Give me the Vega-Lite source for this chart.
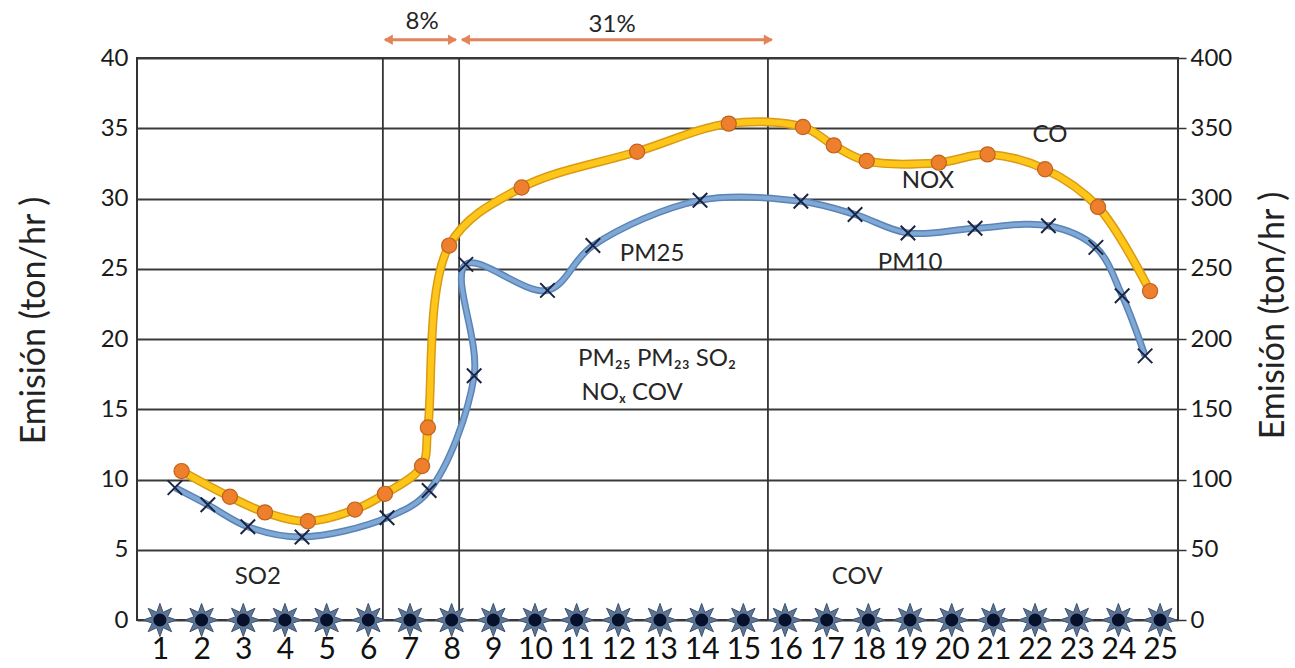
{
  "$schema": "https://vega.github.io/schema/vega-lite/v6.json",
  "autosize": {"type": "none"},
  "padding": {"left": 137, "top": 58, "right": 117, "bottom": 48},
  "width": 1041,
  "height": 562,
  "background": "white",
  "config": {
    "view": {"stroke": "#333333", "strokeWidth": 2},
    "font": "Lato",
    "axis": {"labelFont": "Lato", "titleFont": "Lato", "labelColor": "#1a1a1a", "titleColor": "#222222", "titleFontWeight": "normal"}
  },
  "datasets": {
    "orange": [
      {"x": 1.52, "y": 10.6}, {"x": 2.68, "y": 8.77}, {"x": 3.52, "y": 7.66}, {"x": 4.55, "y": 7.03},
      {"x": 5.68, "y": 7.86}, {"x": 6.40, "y": 8.98}, {"x": 7.29, "y": 10.96}, {"x": 7.43, "y": 13.7},
      {"x": 7.94, "y": 26.65}, {"x": 9.68, "y": 30.78}, {"x": 12.45, "y": 33.33}, {"x": 14.65, "y": 35.33},
      {"x": 16.43, "y": 35.09}, {"x": 17.17, "y": 33.78}, {"x": 17.96, "y": 32.67}, {"x": 19.69, "y": 32.55},
      {"x": 20.86, "y": 33.14}, {"x": 22.24, "y": 32.08}, {"x": 23.51, "y": 29.4}, {"x": 24.76, "y": 23.41}
    ],
    "blue": [
      {"x": 1.36, "y": 9.42}, {"x": 2.15, "y": 8.2}, {"x": 3.11, "y": 6.64}, {"x": 4.41, "y": 5.91},
      {"x": 6.45, "y": 7.28}, {"x": 7.46, "y": 9.22}, {"x": 8.54, "y": 17.38}, {"x": 8.34, "y": 25.31},
      {"x": 10.30, "y": 23.46}, {"x": 11.39, "y": 26.65}, {"x": 13.96, "y": 29.87}, {"x": 16.38, "y": 29.8},
      {"x": 17.68, "y": 28.86}, {"x": 18.95, "y": 27.54}, {"x": 20.56, "y": 27.88}, {"x": 22.32, "y": 28.06},
      {"x": 23.46, "y": 26.52}, {"x": 24.09, "y": 23.08}, {"x": 24.64, "y": 18.8}
    ],
    "stars": [
      {"x": 1, "y": 0}, {"x": 2, "y": 0}, {"x": 3, "y": 0}, {"x": 4, "y": 0}, {"x": 5, "y": 0},
      {"x": 6, "y": 0}, {"x": 7, "y": 0}, {"x": 8, "y": 0}, {"x": 9, "y": 0}, {"x": 10, "y": 0},
      {"x": 11, "y": 0}, {"x": 12, "y": 0}, {"x": 13, "y": 0}, {"x": 14, "y": 0}, {"x": 15, "y": 0},
      {"x": 16, "y": 0}, {"x": 17, "y": 0}, {"x": 18, "y": 0}, {"x": 19, "y": 0}, {"x": 20, "y": 0},
      {"x": 21, "y": 0}, {"x": 22, "y": 0}, {"x": 23, "y": 0}, {"x": 24, "y": 0}, {"x": 25, "y": 0}
    ],
    "vlines": [{"x": 6.35}, {"x": 8.18}, {"x": 15.59}],
    "arrows": [{"x": 6.40, "x2": 8.10, "y": 41.3}, {"x": 8.25, "x2": 15.68, "y": 41.3}],
    "heads": [
      {"x": 6.48, "y": 41.3, "dir": "l"}, {"x": 8.02, "y": 41.3, "dir": "r"},
      {"x": 8.33, "y": 41.3, "dir": "l"}, {"x": 15.60, "y": 41.3, "dir": "r"}
    ],
    "labels": [
      {"x": 7.29, "y": 42.56, "t": "8%"},
      {"x": 11.85, "y": 42.35, "t": "31%"},
      {"x": 12.81, "y": 26.05, "t": "PM25"},
      {"x": 19.0, "y": 25.41, "t": "PM10"},
      {"x": 19.43, "y": 31.25, "t": "NOX"},
      {"x": 22.36, "y": 34.52, "t": "CO"},
      {"x": 3.35, "y": 3.06, "t": "SO2"},
      {"x": 17.73, "y": 3.06, "t": "COV"},
      {"x": 12.93, "y": 18.58, "t": "PM₂₅ PM₂₃ SO₂"},
      {"x": 12.33, "y": 16.16, "t": "NOₓ COV"}
    ]
  },
  "layer": [
    {
      "layer": [
        {
          "data": {"name": "vlines"},
          "mark": {"type": "rule", "color": "#333333", "strokeWidth": 1.8},
          "encoding": {
            "x": {"field": "x", "type": "quantitative", "scale": {"domain": [0.45, 25.43], "nice": false, "zero": false},
              "axis": {"values": [1,2,3,4,5,6,7,8,9,10,11,12,13,14,15,16,17,18,19,20,21,22,23,24,25], "grid": false, "domain": false, "ticks": false, "labelFontSize": 30, "labelPadding": 14, "title": null, "labelColor": "#111111", "labelOverlap": false, "labelFlush": false}}
          }
        },
        {
          "data": {"name": "stars"},
          "mark": {"type": "point", "opacity": 0},
          "encoding": {
            "x": {"field": "x", "type": "quantitative"},
            "y": {"field": "y", "type": "quantitative", "scale": {"domain": [0, 40], "nice": false},
              "axis": {"values": [0,5,10,15,20,25,30,35,40], "grid": true, "gridColor": "#3a3a3a", "gridWidth": 1.8, "domain": false, "ticks": false, "labelFontSize": 24, "labelPadding": 9,
                "title": "Emisión (ton/hr )", "titleFontSize": 34, "titleAngle": -90, "titleX": -103, "titleY": 262, "titleAlign": "center", "titleBaseline": "middle"}}
          }
        },
        {
          "data": {"name": "arrows"},
          "mark": {"type": "rule", "color": "#E4835A", "strokeWidth": 3},
          "encoding": {
            "x": {"field": "x", "type": "quantitative"},
            "x2": {"field": "x2"},
            "y": {"field": "y", "type": "quantitative"}
          }
        },
        {
          "data": {"name": "heads"},
          "mark": {"type": "point", "filled": true, "color": "#E4835A", "size": 110, "opacity": 1},
          "encoding": {
            "x": {"field": "x", "type": "quantitative"},
            "y": {"field": "y", "type": "quantitative"},
            "shape": {"field": "dir", "type": "nominal", "scale": {"domain": ["l", "r"], "range": ["triangle-left", "triangle-right"]}, "legend": null}
          }
        },
        {
          "data": {"name": "blue"},
          "mark": {"type": "line", "color": "#5A84B5", "strokeWidth": 7, "interpolate": "catmull-rom"},
          "encoding": {
            "x": {"field": "x", "type": "quantitative"},
            "y": {"field": "y", "type": "quantitative"},
            "order": {"value": null}
          }
        },
        {
          "data": {"name": "blue"},
          "mark": {"type": "line", "color": "#80A8D6", "strokeWidth": 4, "interpolate": "catmull-rom"},
          "encoding": {
            "x": {"field": "x", "type": "quantitative"},
            "y": {"field": "y", "type": "quantitative"},
            "order": {"value": null}
          }
        },
        {
          "data": {"name": "orange"},
          "mark": {"type": "line", "color": "#D99A16", "strokeWidth": 9, "interpolate": "catmull-rom"},
          "encoding": {
            "x": {"field": "x", "type": "quantitative"},
            "y": {"field": "y", "type": "quantitative"}
          }
        },
        {
          "data": {"name": "orange"},
          "mark": {"type": "line", "color": "#FFC61A", "strokeWidth": 6, "interpolate": "catmull-rom"},
          "encoding": {
            "x": {"field": "x", "type": "quantitative"},
            "y": {"field": "y", "type": "quantitative"}
          }
        },
        {
          "data": {"name": "blue"},
          "mark": {"type": "point", "shape": "M-1,-1L1,1M-1,1L1,-1", "filled": false, "stroke": "#1B2542", "strokeWidth": 2, "size": 210, "opacity": 1},
          "encoding": {
            "x": {"field": "x", "type": "quantitative"},
            "y": {"field": "y", "type": "quantitative"}
          }
        },
        {
          "data": {"name": "orange"},
          "mark": {"type": "point", "shape": "circle", "filled": true, "fill": "#EE7F2D", "stroke": "#C0621E", "strokeWidth": 1.2, "size": 230, "opacity": 1},
          "encoding": {
            "x": {"field": "x", "type": "quantitative"},
            "y": {"field": "y", "type": "quantitative"}
          }
        },
        {
          "data": {"name": "stars"},
          "mark": {"type": "point", "shape": "M0,-1L0.191,-0.462L0.707,-0.707L0.462,-0.191L1,0L0.462,0.191L0.707,0.707L0.191,0.462L0,1L-0.191,0.462L-0.707,0.707L-0.462,0.191L-1,0L-0.462,-0.191L-0.707,-0.707L-0.191,-0.462Z", "filled": true, "fill": "#5E7696", "stroke": "#3E5170", "strokeWidth": 1, "size": 1100, "opacity": 1},
          "encoding": {
            "x": {"field": "x", "type": "quantitative"},
            "y": {"field": "y", "type": "quantitative"}
          }
        },
        {
          "data": {"name": "stars"},
          "mark": {"type": "point", "shape": "circle", "filled": true, "fill": "#07112B", "size": 170, "opacity": 1},
          "encoding": {
            "x": {"field": "x", "type": "quantitative"},
            "y": {"field": "y", "type": "quantitative"}
          }
        },
        {
          "data": {"name": "labels"},
          "mark": {"type": "text", "font": "Lato", "fontSize": 24, "color": "#262626", "align": "center", "baseline": "middle"},
          "encoding": {
            "x": {"field": "x", "type": "quantitative"},
            "y": {"field": "y", "type": "quantitative"},
            "text": {"field": "t", "type": "nominal"}
          }
        }
      ]
    },
    {
      "data": {"values": [{"r": 0}, {"r": 400}]},
      "mark": {"type": "rule", "opacity": 0},
      "encoding": {
        "y": {"field": "r", "type": "quantitative", "scale": {"domain": [0, 400], "nice": false},
          "axis": {"orient": "right", "values": [0,50,100,150,200,250,300,350,400], "grid": false, "domain": false, "ticks": true, "tickSize": 8, "tickColor": "#333333", "tickWidth": 1.5, "labelFontSize": 24, "labelPadding": 4,
            "title": "Emisión (ton/hr )", "titleFontSize": 34, "titleAngle": -90, "titleX": 95, "titleY": 257, "titleAlign": "center", "titleBaseline": "middle"}}
      }
    }
  ],
  "resolve": {"scale": {"y": "independent"}}
}
